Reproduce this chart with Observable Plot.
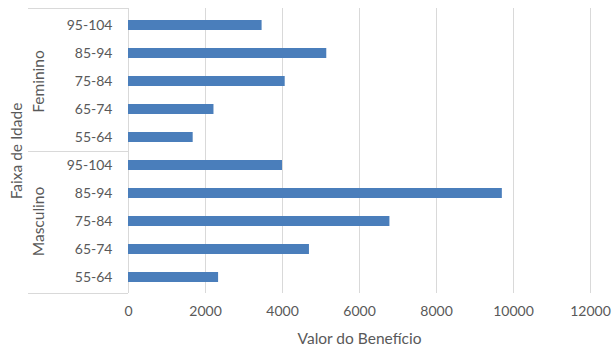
<!DOCTYPE html>
<html><head><meta charset="utf-8">
<script src="https://cdn.jsdelivr.net/npm/d3@7"></script>
<script src="https://cdn.jsdelivr.net/npm/@observablehq/plot@0.6"></script>
<style>
html,body{margin:0;padding:0;background:#fff;}
svg{font-family:Lato,"Open Sans",sans-serif;}
</style></head><body>
<div id="chart"></div>
<script>
const groups = ["Feminino", "Masculino"];
const ages = ["95-104", "85-94", "75-84", "65-74", "55-64"];
const feminino = [3470, 5150, 4070, 2220, 1680];
const masculino = [4000, 9710, 6790, 4700, 2340];
const xTicks = [0, 2000, 4000, 6000, 8000, 10000, 12000];

const seriesByGroup = {Feminino: feminino, Masculino: masculino};
const rows = [];
for (const g of groups) ages.forEach((a, i) => rows.push({group: g, age: a, key: g + "|" + a, value: seriesByGroup[g][i]}));
const keys = rows.map(d => d.key);
const labelRows = groups.map(g => ({group: g, key: g + "|" + ages[2]}));

const textColor = "#595959";
const lineColor = "#d9d9d9";

function boxLines(index, scales, values, dimensions) {
  const y = scales.y;
  const step = y.step ? y.step() : y.bandwidth();
  const x0 = scales.x(0);
  const left = 28;
  const g = d3.create("svg:g").attr("stroke", lineColor).attr("stroke-width", 1);
  const top = dimensions.marginTop;
  const bottom = dimensions.height - dimensions.marginBottom;
  const ys = [top, y(groups[1] + "|" + ages[0]) - (step - y.bandwidth()) / 2, bottom];
  for (const yy of ys) g.append("line").attr("x1", left).attr("x2", x0).attr("y1", Math.round(yy) + 0.5).attr("y2", Math.round(yy) + 0.5);
  return g.node();
}

const plot = Plot.plot({
  width: 612,
  height: 349,
  marginLeft: 128,
  marginRight: 22,
  marginTop: 8,
  marginBottom: 56,
  style: {fontSize: "14px", color: textColor, fontFamily: "Lato, 'Open Sans', sans-serif"},
  x: {domain: [0, 12000]},
  y: {domain: keys, paddingInner: 0.65, paddingOuter: 0.325},
  marks: [
    Plot.gridX(xTicks, {stroke: lineColor, strokeOpacity: 1}),
    Plot.barX(rows, {x: "value", y: "key", fill: "#4a7ebb"}),
    boxLines,
    Plot.axisX({ticks: xTicks, tickSize: 0, tickPadding: 13, tickFormat: d => String(d), label: null, fill: textColor, fontSize: 14}),
    Plot.axisX({ticks: [], label: "Valor do Benefício", labelArrow: "none", labelAnchor: "center", labelOffset: 50, fill: textColor, fontSize: 15.5}),
    Plot.axisY({tickSize: 0, tickPadding: 16, tickFormat: k => k.split("|")[1], label: null, fill: textColor, fontSize: 14}),
    Plot.axisY({ticks: [], label: "Faixa de Idade", labelArrow: "none", labelAnchor: "center", labelOffset: 118, fill: textColor, fontSize: 15.5}),
    Plot.text(labelRows, {x: () => 0, y: "key", text: "group", rotate: -90, dx: -89, fill: textColor, fontSize: 15.5})
  ]
});
document.getElementById("chart").appendChild(plot);
</script>
</body></html>
